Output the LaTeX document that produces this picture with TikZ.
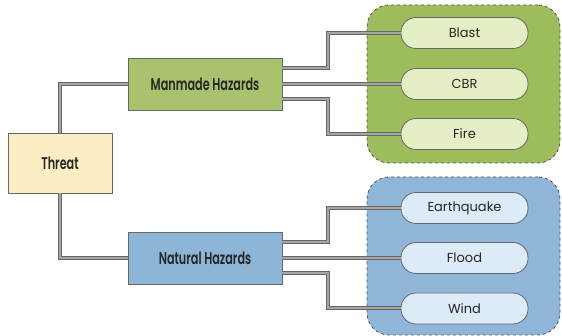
\documentclass[tikz,border=0pt]{standalone}
\usepackage{fontspec}
\setmainfont{Poppins}
\newfontfamily\condfont[FakeStretch=0.66]{Poppins SemiBold}
\usetikzlibrary{shapes.misc}
\definecolor{threatfill}{HTML}{FDEDC2}
\definecolor{mangreen}{HTML}{A9C26E}
\definecolor{grpgreen}{HTML}{9DBC5C}
\definecolor{pillgreen}{HTML}{E5EFC6}
\definecolor{natblue}{HTML}{8DB5D7}
\definecolor{grpblue}{HTML}{8FB6D8}
\definecolor{pillblue}{HTML}{DDEAF7}
\definecolor{edgegray}{HTML}{666666}
\definecolor{txt}{HTML}{262626}
\tikzset{
  mainbox/.style={draw=edgegray, line width=0.8pt, inner sep=0pt, text=txt,
    font=\condfont\fontsize{17}{19}\selectfont},
  grpbox/.style={draw=edgegray!80!black, dashed, line width=0.8pt, rounded corners=22pt,
    minimum width=193pt, minimum height=158pt, inner sep=0pt},
  pill/.style={draw=edgegray, line width=0.8pt, rounded corners=15pt,
    minimum width=127pt, minimum height=31pt, inner sep=0pt, text=txt,
    font=\fontsize{13}{15}\selectfont},
  pipe/.style={draw=edgegray, line width=1pt, double=gray!70, double distance=2pt}
}
\begin{document}
\begin{tikzpicture}[x=1pt,y=-1pt]
\useasboundingbox (0,0) rectangle (562,336);
\node[grpbox, fill=grpgreen] (ggrp) at (463.5,84) {};
\node[grpbox, fill=grpblue] (bgrp) at (463.5,256) {};
\node[mainbox, fill=threatfill, minimum width=104pt, minimum height=60pt] (threat) at (60,163) {Threat};
\node[mainbox, fill=mangreen, minimum width=154pt, minimum height=52pt] (man) at (205,84) {Manmade Hazards};
\node[mainbox, fill=natblue, minimum width=154pt, minimum height=52pt] (nat) at (205,258) {Natural Hazards};
\node[pill, fill=pillgreen] (blast) at (464.5,33) {Blast};
\node[pill, fill=pillgreen] (cbr) at (464.5,84) {CBR};
\node[pill, fill=pillgreen] (fire) at (464.5,134) {Fire};
\node[pill, fill=pillblue] (quake) at (464.5,208) {Earthquake};
\node[pill, fill=pillblue] (flood) at (464.5,258) {Flood};
\node[pill, fill=pillblue] (wind) at (464.5,308.5) {Wind};
\draw[pipe] (threat.north) |- (man.west);
\draw[pipe] (threat.south) |- (nat.west);
\draw[pipe] ([yshift=16pt]man.east) -| (328,33) -- (blast.west);
\draw[pipe] (man.east) -- (cbr.west);
\draw[pipe] ([yshift=-15pt]man.east) -| (328,134) -- (fire.west);
\draw[pipe] ([yshift=16pt]nat.east) -| (328,208) -- (quake.west);
\draw[pipe] (nat.east) -- (flood.west);
\draw[pipe] ([yshift=-15pt]nat.east) -| (328,308.5) -- (wind.west);
\end{tikzpicture}
\end{document}
